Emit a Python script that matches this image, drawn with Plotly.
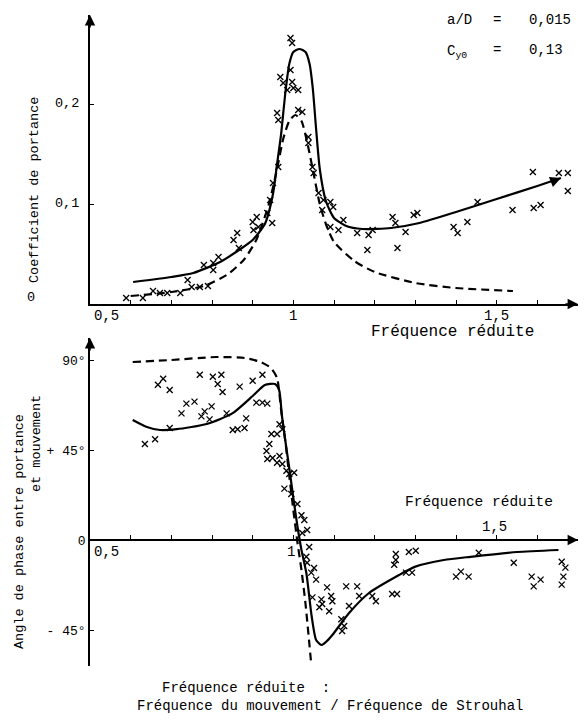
import plotly.graph_objects as go

# ---------------- DATA ----------------
# Top panel: lift coefficient vs reduced frequency
lift_solid_x = [0.606, 0.70, 0.754, 0.82, 0.87, 0.90, 0.93, 0.95, 0.96, 0.97, 0.98, 0.99, 1.0, 1.015, 1.03,
                1.04, 1.048, 1.056, 1.065, 1.08, 1.10, 1.13, 1.17, 1.24, 1.31, 1.40, 1.50, 1.60, 1.658]
lift_solid_y = [0.022, 0.027, 0.031, 0.042, 0.055, 0.064, 0.08, 0.11, 0.14, 0.17, 0.21, 0.24, 0.252, 0.255, 0.252,
                0.24, 0.215, 0.175, 0.135, 0.103, 0.086, 0.078, 0.075, 0.076, 0.081, 0.092, 0.105, 0.118, 0.126]

lift_dash_x = [0.60, 0.70, 0.78, 0.84, 0.88, 0.91, 0.94, 0.96, 0.975, 0.99, 1.005, 1.02, 1.035, 1.05, 1.065,
               1.08, 1.10, 1.15, 1.20, 1.30, 1.40, 1.54]
lift_dash_y = [0.008, 0.012, 0.018, 0.030, 0.045, 0.065, 0.100, 0.135, 0.165, 0.183, 0.189, 0.183, 0.160, 0.130,
               0.100, 0.080, 0.062, 0.043, 0.032, 0.021, 0.016, 0.013]

lift_pts_x = [0.589, 0.63, 0.655, 0.672, 0.69, 0.722, 0.74, 0.75, 0.77, 0.79, 0.78, 0.803, 0.816, 0.803,
              0.853, 0.862, 0.866, 0.90, 0.91, 0.914, 0.902, 0.936, 0.948, 0.943, 0.95, 0.963, 0.96, 0.963,
              0.968, 0.975, 0.985, 0.997, 0.993, 0.997, 0.993, 1.0, 1.012, 1.012, 1.022, 1.037, 1.037,
              1.047, 1.05, 1.062, 1.074, 1.091, 1.071, 1.098, 1.091, 1.111, 1.123, 1.157, 1.185, 1.195,
              1.182, 1.244, 1.251, 1.256, 1.276, 1.296, 1.305, 1.394, 1.404, 1.428, 1.453, 1.539, 1.589,
              1.591, 1.608, 1.653, 1.675, 1.675]
lift_pts_y = [0.006, 0.006, 0.013, 0.011, 0.011, 0.011, 0.024, 0.017, 0.017, 0.018, 0.039, 0.041, 0.047, 0.034,
              0.064, 0.071, 0.056, 0.082, 0.087, 0.077, 0.074, 0.091, 0.081, 0.104, 0.121, 0.137, 0.191, 0.184,
              0.227, 0.221, 0.214, 0.222, 0.266, 0.261, 0.234, 0.216, 0.214, 0.194, 0.192, 0.167, 0.161,
              0.137, 0.131, 0.111, 0.104, 0.102, 0.094, 0.097, 0.077, 0.074, 0.084, 0.071, 0.069, 0.074,
              0.054, 0.087, 0.081, 0.056, 0.072, 0.089, 0.091, 0.077, 0.071, 0.082, 0.102, 0.094, 0.132,
              0.096, 0.099, 0.131, 0.131, 0.113]

# Bottom panel: phase angle (degrees) vs reduced frequency
phase_solid_x = [0.605, 0.64, 0.672, 0.713, 0.787, 0.85, 0.90, 0.93, 0.955, 0.965, 0.972, 0.98, 0.99, 1.0,
                 1.01, 1.02, 1.032, 1.045, 1.056, 1.069, 1.08, 1.096, 1.137, 1.186, 1.26, 1.30, 1.37, 1.436,
                 1.55, 1.652]
phase_solid_y = [60, 56.5, 55, 55.4, 58, 63.3, 72, 77.5, 78, 75, 62, 50, 36, 21, 7, -5, -16.5, -38, -50, -52.5,
                 -51, -47.5, -36.5, -26.5, -17.5, -13.3, -10, -8.4, -6, -5]

phase_dash_x = [0.605, 0.70, 0.81, 0.88, 0.92, 0.945, 0.96, 0.97, 0.98, 0.99, 1.0, 1.01, 1.02, 1.03, 1.044]
phase_dash_y = [89, 90, 91.5, 91, 89, 86, 81, 65, 50, 32, 15, -1, -15, -32, -62]

phase_pts_x = [0.635, 0.66, 0.667, 0.68, 0.696, 0.696, 0.725, 0.737, 0.757, 0.77, 0.774, 0.782, 0.799, 0.794,
               0.802, 0.814, 0.823, 0.826, 0.836, 0.851, 0.863, 0.88, 0.884, 0.868, 0.90, 0.924, 0.909, 0.924,
               0.936, 0.934, 0.941, 0.946, 0.966, 0.96, 0.973, 0.936, 0.949, 0.966, 0.96, 0.973, 0.983,
               0.99, 1.002, 0.978, 0.995, 1.01, 1.02, 1.027, 1.034, 1.022, 1.039, 1.032, 1.034, 1.051, 1.044,
               1.056, 1.047, 1.069, 1.064, 1.071, 1.083, 1.093, 1.096, 1.088, 1.13, 1.157, 1.162, 1.137,
               1.118, 1.125, 1.12, 1.194, 1.203, 1.243, 1.255, 1.248, 1.252, 1.252, 1.284, 1.301, 1.277,
               1.292, 1.40, 1.412, 1.431, 1.456, 1.542, 1.586, 1.591, 1.608, 1.66, 1.669, 1.664, 1.66]
phase_pts_y = [48, 50.4, 77.6, 80.6, 75, 56, 63.3, 68.2, 69.2, 82.6, 61.8, 64.3, 66.8, 60.3,
               81.6, 78, 82.6, 74, 63.3, 55, 55.4, 56, 60.8, 76.7, 79.6, 82.6, 68.7, 68.7,
               68.2, 44.5, 48, 53, 57.9, 53, 55.4, 40.5, 41, 42, 38.6, 38, 34.6,
               33, 33.6, 25.7, 23, 18, 12.4, 10, 5, 3.5, -3.5, -8.4, -11.4, -14, -16.3,
               -19.8, -28.7, -29.7, -33.6, -32, -23.7, -28, -30.6, -35.6, -23.2, -23.2, -28, -33,
               -39.6, -43, -45.5, -28, -30.6, -27, -27, -12.4, -10, -7, -6, -5.4, -16.3,
               -16.3, -18.3, -15.8, -18.3, -6.4, -11.4, -18.3, -23.2, -19.8, -10.9, -13.8, -18.3, -22.3]

# Tick values / labels
x_minor_ticks = [0.6, 0.7, 0.8, 0.9, 1.0, 1.1, 1.2, 1.3, 1.4, 1.5, 1.6]
x_tick_vals = [0.5, 1.0, 1.5]
x_tick_text = ["0,5", "1", "1,5"]
lift_tick_vals = [0, 0.1, 0.2]
lift_tick_text = ["0", "0,1", "0,2"]
phase_tick_vals = [90, 45, 0, -45]
phase_tick_text = ["90°", "+ 45°", "0", "- 45°"]

# Parameters block (top right)
param_names = ["a/D", "C<sub>y0</sub>"]
param_values = ["0,015", "0,13"]

# ---------------- FIGURE ----------------
FONT = "Liberation Mono"
W, H = 585, 724
XDOM = [90 / W, 578 / W]
XRANGE = [0.5, 1.70]

fig = go.Figure()
line_solid = dict(color="black", width=2.2, shape="spline", smoothing=0.6)
line_dash = dict(color="black", width=2.2, dash="8px,5px", shape="spline", smoothing=0.6)
mk = dict(symbol="x-thin", size=6, color="black", line=dict(color="black", width=1.3))

fig.add_trace(go.Scatter(x=lift_dash_x, y=lift_dash_y, mode="lines", line=line_dash, xaxis="x", yaxis="y"))
fig.add_trace(go.Scatter(x=lift_solid_x, y=lift_solid_y, mode="lines", line=line_solid, xaxis="x", yaxis="y"))
fig.add_trace(go.Scatter(x=lift_pts_x, y=lift_pts_y, mode="markers", marker=mk, xaxis="x", yaxis="y"))

fig.add_trace(go.Scatter(x=phase_dash_x, y=phase_dash_y, mode="lines", line=line_dash, xaxis="x2", yaxis="y2"))
fig.add_trace(go.Scatter(x=phase_solid_x, y=phase_solid_y, mode="lines", line=line_solid, xaxis="x2", yaxis="y2"))
fig.add_trace(go.Scatter(x=phase_pts_x, y=phase_pts_y, mode="markers", marker=mk, xaxis="x2", yaxis="y2"))

ax_common = dict(showline=True, linecolor="black", linewidth=1.6, ticks="inside", ticklen=4,
                 tickcolor="black", tickwidth=1.2, showgrid=False, zeroline=False)

fig.update_layout(
    width=W, height=H, margin=dict(l=0, r=0, t=0, b=0), autosize=False,
    showlegend=False, paper_bgcolor="white", plot_bgcolor="white",
    font=dict(family=FONT, color="black", size=14),
    xaxis=dict(domain=XDOM, range=XRANGE, anchor="y", tickvals=x_minor_ticks, showticklabels=False, **ax_common),
    yaxis=dict(domain=[(H - 304) / H, (H - 15) / H], range=[0, 0.289], anchor="x",
               tickvals=lift_tick_vals, showticklabels=False, **ax_common),
    xaxis2=dict(domain=XDOM, range=XRANGE, anchor="free", position=(H - 540) / H,
                tickvals=x_minor_ticks, showticklabels=False, **ax_common),
    yaxis2=dict(domain=[(H - 666) / H, (H - 338) / H], range=[-63, 101], anchor="x2",
                tickvals=phase_tick_vals, ticktext=phase_tick_text, showticklabels=True,
                tickfont=dict(family=FONT, size=13), **ax_common),
)


def txt(x, y, t, size=14, xa="center", ya="middle", angle=0):
    return dict(x=x / W, y=(H - y) / H, xref="paper", yref="paper", text=t, textangle=angle,
                xanchor=xa, yanchor=ya, showarrow=False, font=dict(size=size))


ann = []
# axis arrowheads
for xr, yr, xv, yv, axo, ayo in [("x", "y", XRANGE[1], 0, -14, 0), ("x", "y", 0.5, 0.289, 0, 14),
                                  ("x2", "y2", XRANGE[1], 0, -14, 0), ("x2", "y2", 0.5, 101, 0, 14)]:
    ann.append(dict(x=xv, y=yv, xref=xr, yref=yr, ax=axo, ay=ayo, text="", showarrow=True,
                    arrowhead=2, arrowsize=1.3, arrowwidth=1.6, arrowcolor="black"))
# arrow at end of solid lift curve
ann.append(dict(x=lift_solid_x[-1], y=lift_solid_y[-1], xref="x", yref="y", ax=-10, ay=4, text="",
                showarrow=True, arrowhead=2, arrowsize=1.2, arrowwidth=1.8, arrowcolor="black"))

# x tick labels
for v, t in zip(x_tick_vals, x_tick_text):
    first = v == x_tick_vals[0]
    ann.append(dict(x=v, y=0, xref="x", yref="y", text=t, showarrow=False,
                    xanchor="left" if first else "center", xshift=2 if first else 0,
                    yanchor="top", yshift=-2, font=dict(size=14)))
    above = v == x_tick_vals[-1]
    ann.append(dict(x=v, y=0, xref="x2", yref="y2", text=t, showarrow=False,
                    xanchor="left" if first else "center", xshift=2 if first else -2,
                    yanchor="bottom" if above else "top", yshift=3 if above else -2, font=dict(size=14)))
# lift y tick labels
for v, t in zip(lift_tick_vals, lift_tick_text):
    ann.append(dict(x=(37 if v == 0 else 81) / W, y=v, xref="paper", yref="y", text=t, showarrow=False,
                    xanchor="right", yanchor="middle", yshift=7 if v == 0 else 0, font=dict(size=13.5)))

# titles
ann.append(txt(34, 190, "Coefficient de portance", size=13.5, angle=-90))
ann.append(txt(452, 332, "Fréquence réduite", size=16))
ann.append(txt(19, 532, "Angle de phase entre portance", size=13.5, angle=-90))
ann.append(txt(36, 444, "et mouvement", size=13.5, angle=-90))
ann.append(txt(479, 502, "Fréquence réduite", size=14.5))
ann.append(txt(160, 688, "Fréquence réduite  :", xa="left"))
ann.append(txt(135, 706, "Fréquence du mouvement / Fréquence de Strouhal", xa="left"))

# parameter block
for i, (n, v) in enumerate(zip(param_names, param_values)):
    yy = 20 + 30 * i
    ann.append(txt(445, yy + (2 * i), n, xa="left", ya="middle"))
    ann.append(txt(497, yy, "=", xa="center"))
    ann.append(txt(527, yy, v, xa="left"))

fig.update_layout(annotations=ann)
fig.write_html("out.html")
